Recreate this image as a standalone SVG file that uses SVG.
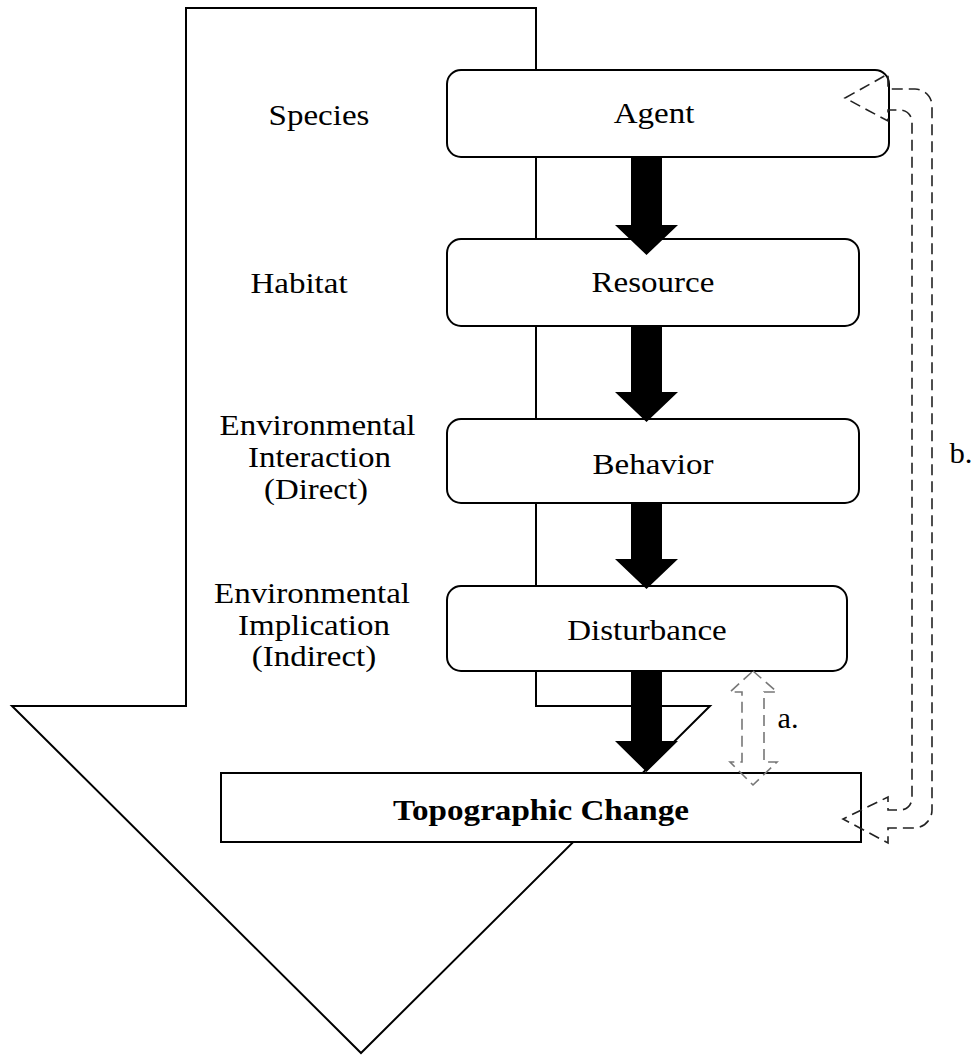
<svg xmlns="http://www.w3.org/2000/svg" width="974" height="1055" viewBox="0 0 974 1055">
<defs>
<style>
text{font-family:'Liberation Serif','Times New Roman',Tinos,'Nimbus Roman',serif;font-size:30px;fill:#000;text-anchor:middle}
.b{font-weight:bold}
.box{fill:#fff;stroke:#000;stroke-width:2}
.blk{fill:#000;stroke:none}
.dash{fill:none;stroke-width:1.6;stroke-dasharray:11,6}
</style>
</defs>
<rect width="974" height="1055" fill="#fff"/>
<g id="big-arrow">
<polygon points="186,8 536,8 536,706 710,706 361,1053 12,706 186,706" fill="#fff" stroke="#000" stroke-width="2"/>
</g>
<g id="labels" font-family="Liberation Serif, serif">
<text x="319" y="125" textLength="100.8" lengthAdjust="spacingAndGlyphs">Species</text>
<text x="299" y="293" textLength="97.2" lengthAdjust="spacingAndGlyphs">Habitat</text>
<text x="317.5" y="435" textLength="196" lengthAdjust="spacingAndGlyphs">Environmental</text>
<text x="319.5" y="467" textLength="143" lengthAdjust="spacingAndGlyphs">Interaction</text>
<text x="316" y="499" textLength="104" lengthAdjust="spacingAndGlyphs">(Direct)</text>
<text x="312" y="603" textLength="196" lengthAdjust="spacingAndGlyphs">Environmental</text>
<text x="314" y="635" textLength="152" lengthAdjust="spacingAndGlyphs">Implication</text>
<text x="314" y="666" textLength="124.6" lengthAdjust="spacingAndGlyphs">(Indirect)</text>
</g>
<g id="node-agent">
<rect class="box" x="447" y="70" width="442" height="87" rx="14"/>
<text x="654" y="123" textLength="80.7" lengthAdjust="spacingAndGlyphs">Agent</text>
</g>
<g id="node-resource">
<rect class="box" x="447" y="239" width="412" height="87" rx="14"/>
<text x="653" y="292" textLength="122.8" lengthAdjust="spacingAndGlyphs">Resource</text>
</g>
<g id="node-behavior">
<rect class="box" x="447" y="419" width="412" height="84" rx="14"/>
<text x="653" y="474" textLength="121" lengthAdjust="spacingAndGlyphs">Behavior</text>
</g>
<g id="node-disturbance">
<rect class="box" x="447" y="586" width="400" height="85" rx="14"/>
<text x="647" y="640" textLength="159.5" lengthAdjust="spacingAndGlyphs">Disturbance</text>
</g>
<g id="node-topographic">
<rect class="box" x="221" y="773" width="640" height="69"/>
<text class="b" x="541" y="820" textLength="296" lengthAdjust="spacingAndGlyphs">Topographic Change</text>
</g>
<g id="connectors">
<polygon class="blk" points="631,157 662,157 662,225 678,225 646.5,255 615,225 631,225"/>
<polygon class="blk" points="631,326 662,326 662,392 678,392 646.5,422 615,392 631,392"/>
<polygon class="blk" points="631,503 662,503 662,559 678,559 646.5,589 615,559 631,559"/>
<polygon class="blk" points="631,671 662,671 662,741 678,741 646.5,772 615,741 631,741"/>
<polygon class="dash" stroke="#777" points="753,671 777,692 764,692 764,762 777,762 753,785 730,762 742,762 742,692 730,692"/>
<path class="dash" stroke="#222" d="M845,98 L888,74 L888,89 L915,89 A17,17 0 0 1 932,106 L932,810 A18,18 0 0 1 914,828 L888,828 L888,843 L843,819 L888,797 L888,810 L900,810 A12,12 0 0 0 912,798 L912,122 A12,12 0 0 0 900,110 L888,110 L888,121 Z"/>
<text x="788" y="728" textLength="21" lengthAdjust="spacingAndGlyphs">a.</text>
<text x="961" y="463" textLength="23" lengthAdjust="spacingAndGlyphs">b.</text>
</g>
</svg>
